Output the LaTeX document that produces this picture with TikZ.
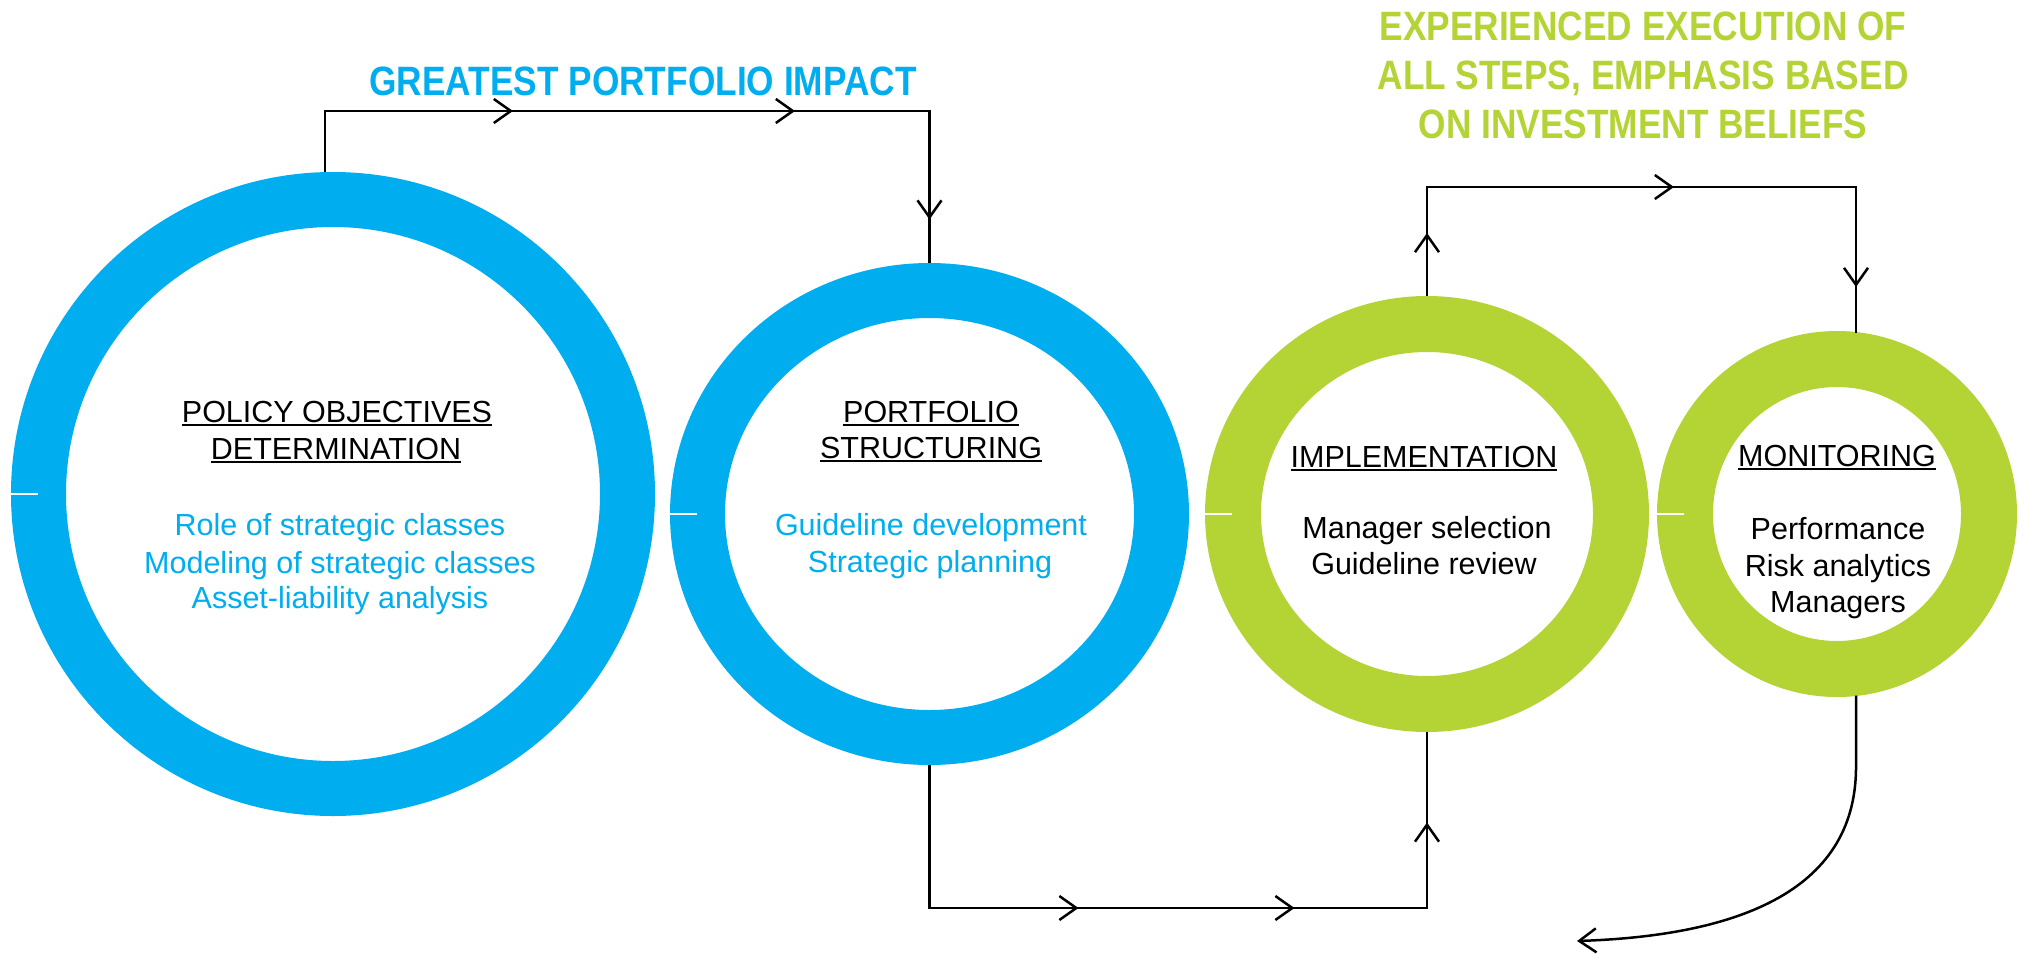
\documentclass[tikz,border=0pt]{standalone}
\usepackage{fontspec}
\setmainfont{Liberation Sans}
\newfontfamily\titlefont{Liberation Sans}[FakeStretch=0.86]
\usetikzlibrary{shapes.geometric,arrows.meta,decorations.markings,calc}
\definecolor{ringblue}{RGB}{0,174,239}
\definecolor{ringgreen}{RGB}{180,211,53}
\newcommand{\myul}[1]{\leavevmode\sbox0{#1}\rlap{\rule[-4pt]{\wd0}{2.2pt}}\usebox0}
\tikzset{
  ring/.style={ellipse, draw=#1, line width=55pt, inner sep=0pt, fill=none},
  body/.style={anchor=base, inner sep=0pt, font=\fontsize{30.5}{37}\selectfont},
  head/.style={body, text=black},
  bluetxt/.style={body, text=ringblue},
  blacktxt/.style={body, text=black},
  title/.style={anchor=base, inner sep=0pt, font=\titlefont\bfseries\fontsize{41}{49}\selectfont},
  conn/.style={draw=black, line width=2.5pt, line join=miter},
  chev/.tip={Straight Barb[length=17pt,width=24pt]},
  notch/.style={draw=white, line width=1.2pt},
}
\begin{document}
\begin{tikzpicture}[x=1pt,y=-1pt]
\fill[white] (0,0) rectangle (2026,953);
\useasboundingbox (0,0) rectangle (2026,953);

% rings
\node[ring=ringblue, minimum width=589pt, minimum height=589pt] (c1) at (333,494) {};
\node[ring=ringblue, minimum width=464pt, minimum height=447pt] (c2) at (929.5,514) {};
\node[ring=ringgreen, line width=56pt, minimum width=388pt, minimum height=380pt] (c3) at (1427,514) {};
\node[ring=ringgreen, line width=56pt, minimum width=304pt, minimum height=310pt] (c4) at (1837,514) {};

\draw[notch] (c1.west) -- ++(27,0);
\draw[notch] (c2.west) -- ++(27,0);
\draw[notch] (c3.west) -- ++(27,0);
\draw[notch] (c4.west) -- ++(27,0);

% titles
\node[title, text=ringblue] (tA) at (643,95) {GREATEST PORTFOLIO IMPACT};
\node[title, text=ringgreen] (tB1) at (1643,40) {EXPERIENCED EXECUTION OF};
\node[title, text=ringgreen] (tB2) at (1643,89) {ALL STEPS, EMPHASIS BASED};
\node[title, text=ringgreen] (tB3) at (1643,138) {ON INVESTMENT BELIEFS};

% circle 1 text
\node[head] (p1) at (337,422) {\myul{POLICY OBJECTIVES}};
\node[head] (p2) at (336,459) {\myul{DETERMINATION}};
\node[bluetxt] (p3) at (340,535) {Role of strategic classes};
\node[bluetxt] (p4) at (340,573) {Modeling of strategic classes};
\node[bluetxt] (p5) at (340,608) {Asset-liability analysis};

% circle 2 text
\node[head] (s1) at (931,422) {\myul{PORTFOLIO}};
\node[head] (s2) at (931,458) {\myul{STRUCTURING}};
\node[bluetxt] (s3) at (931,535) {Guideline development};
\node[bluetxt] (s4) at (930,572) {Strategic planning};

% circle 3 text
\node[head] (i1) at (1424,467) {\myul{IMPLEMENTATION}};
\node[blacktxt] (i2) at (1427,538) {Manager selection};
\node[blacktxt] (i3) at (1424,574) {Guideline review};

% circle 4 text
\node[head] (m1) at (1837,466) {\myul{MONITORING}};
\node[blacktxt] (m2) at (1838,539) {Performance};
\node[blacktxt] (m3) at (1838,576) {Risk analytics};
\node[blacktxt] (m4) at (1838,612) {Managers};

% connectors
\coordinate (a0) at ($(c1.north)+(-8,0)$);
\coordinate (a1) at (a0 |- 0,111);
\coordinate (a2) at (c2.north |- 0,111);
\draw[conn, postaction={decorate}, decoration={markings,
   mark=at position 249pt with {\arrow{chev}},
   mark=at position 531pt with {\arrow{chev}},
   mark=at position 774pt with {\arrow{chev}}}]
  (a0) -- (a1) -- (a2) -- (c2.north);

\coordinate (b1) at (c2.south |- 0,908);
\coordinate (b2) at (c3.south |- 0,908);
\draw[conn, postaction={decorate}, decoration={markings,
   mark=at position 292pt with {\arrow{chev}},
   mark=at position 508pt with {\arrow{chev}},
   mark=at position 726pt with {\arrow{chev}}}]
  (c2.south) -- (b1) -- (b2) -- (c3.south);

\coordinate (d0) at ($(c4.north)+(19,1.5)$);
\coordinate (d1) at (c3.north |- 0,187);
\coordinate (d2) at (d0 |- 0,187);
\draw[conn, postaction={decorate}, decoration={markings,
   mark=at position 63pt with {\arrow{chev}},
   mark=at position 356pt with {\arrow{chev}},
   mark=at position 638pt with {\arrow{chev}}}]
  (c3.north) -- (d1) -- (d2) -- (d0);

\coordinate (e0) at ($(c4.south)+(19,-1.5)$);
\coordinate (e1) at (e0 |- 0,767);
\coordinate (e2) at (1577,941);
\draw[conn, -chev]
  (e0) -- (e1) .. controls (1856,895) and (1730,936) .. (e2);
\end{tikzpicture}
\end{document}
